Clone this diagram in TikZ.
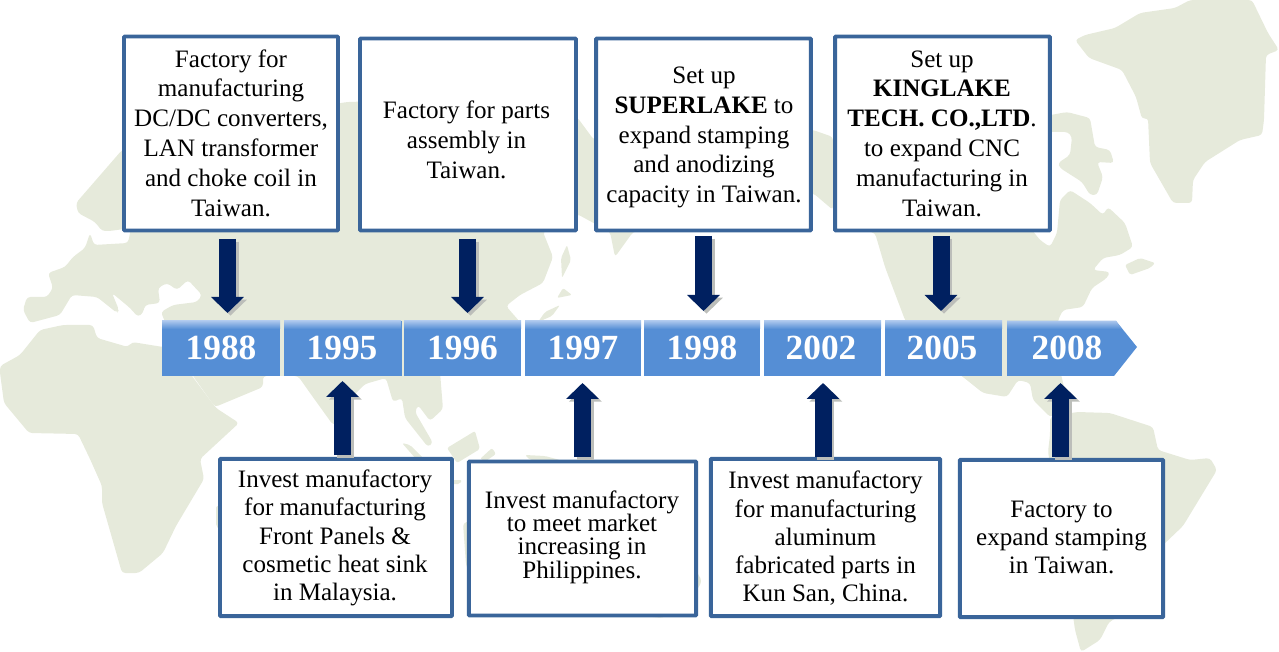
\documentclass[tikz,border=0pt]{standalone}
\usepackage{fontspec}
\setmainfont{Liberation Serif}
\usetikzlibrary{arrows.meta}
\definecolor{land}{HTML}{E6EADB}
\definecolor{yearblue}{HTML}{558ED5}
\definecolor{yearlight}{HTML}{A9C5EC}
\definecolor{frameblue}{HTML}{3A659A}
\definecolor{navy}{HTML}{002060}
\definecolor{shadegray}{HTML}{BCBEBA}
\tikzset{
  x=.75pt,y=-.75pt,
  landmass/.style={fill=land,draw=none,rounded corners=2.5pt},
  framebox/.style={draw=frameblue,line width=2.9pt,fill=white,rounded corners=.6pt,inner sep=0pt},
  txtA/.style={align=center,inner sep=0pt,font=\fontsize{18.8}{22.35}\selectfont},
  txtB/.style={align=center,inner sep=0pt,font=\fontsize{18.8}{21.15}\selectfont},
  txtC/.style={align=center,inner sep=0pt,font=\fontsize{18.8}{17.55}\selectfont},
  yearbox/.style={fill=yearblue,draw=none,inner sep=0pt,minimum height=41.25pt,text=white,font=\fontsize{26.5}{30}\selectfont\bfseries},
  yeartxt/.style={inner sep=0pt,text=white,font=\fontsize{26.5}{30}\selectfont\bfseries},
  blockarrow/.style={draw=navy,line width=12.75pt,-{Triangle[length=12pt,width=24pt,fill=navy]}},
  arrowshade/.style={draw=shadegray,line width=12.75pt,-{Triangle[length=12pt,width=24pt,fill=shadegray]}},
}
\newcommand{\stripe}[2]{\shade[top color=yearlight,bottom color=yearblue] (#1,321) rectangle (#2,329);}
\newcommand{\flow}[4]{%
  \coordinate (#1s) at (#2,#3);\coordinate (#1e) at (#2,#4);
  \draw[arrowshade] ([shift={(2.2pt,-2pt)}]#1s) -- ([shift={(2.2pt,-2pt)}]#1e);
  \draw[blockarrow] (#1s) -- (#1e);}
\begin{document}
\begin{tikzpicture}
\useasboundingbox (0,0) rectangle (1279,652);
% ---- world map ----
% Eurasia
\fill[landmass] (23,310)--(27,297)--(47,297)--(53,288)--(48,273)--(65,267)--(73,257)--(85,248)--(90,233)--(94,245)--(128,243)--(131,228)--(110,231)--(102,231)--(95,222)--(78,213)--(76,203)--(122,150)--(200,130)--(300,110)--(347,102)--(420,100)--(500,105)--(577,117)--(594,140)--(700,125)--(813,130)--(833,137)--(833,210)--(813,193)--(700,215)--(633,232)--(615,257)--(610,232)--(577,214)--(543,232)--(553,257)--(543,283)--(520,295)--(506,306)--(520,322)--(520,345)--(440,372)--(443,409)--(430,421)--(418,405)--(415,412)--(433,443)--(428,447)--(405,418)--(402,398)--(393,402)--(386,378)--(365,384)--(353,396)--(339,423)--(333,425)--(310,393)--(298,376)--(263,376)--(263,387)--(215,407)--(193,376)--(175,340)--(165,322)--(161,312)--(173,305)--(197,302)--(202,295)--(188,280)--(177,290)--(167,283)--(158,288)--(160,303)--(145,305)--(143,313)--(138,317)--(130,308)--(112,293)--(119,310)--(117,313)--(97,297)--(72,295)--(60,315)--(30,323)--cycle;
% Asian islands
\fill[land,rounded corners=1.5pt] (567,245)--(571,260)--(562,278)--(561,258)--cycle;
\fill[land,rounded corners=1.5pt] (563,288)--(572,295)--(557,298)--cycle;
\fill[land,rounded corners=1.5pt] (560,305)--(552,316)--(538,322)--(545,312)--cycle;
\fill[land,rounded corners=1.5pt] (402,443)--(410,445)--(424,459)--(416,459)--cycle;
\fill[land,rounded corners=1.5pt] (447,448)--(475,431)--(480,449)--(457,463)--cycle;
\fill[land,rounded corners=1.5pt] (480,459)--(492,448)--(496,454)--(486,461)--cycle;
\fill[land,rounded corners=1.5pt] (525,455)--(545,456)--(560,460)--(530,460)--cycle;
\fill[land,rounded corners=1.5pt] (452,480)--(462,480)--(460,484)--(452,484)--cycle;
% Africa
\fill[landmass] (93,325)--(97,338)--(128,347)--(132,342)--(163,347)--(175,345)--(192,376)--(216,408)--(239,423)--(200,459)--(204,479)--(176,526)--(163,553)--(139,573)--(122,573)--(102,503)--(102,486)--(90,459)--(78,434)--(29,433)--(4,403)--(0,373)--(0,366)--(20,355)--(40,330)--(63,325)--cycle;
% Madagascar
\fill[land,rounded corners=1.5pt] (216,506)--(222,506)--(222,532)--(216,526)--cycle;
% Australia
\fill[landmass] (463,523)--(475,520)--(690,560)--(702,581)--(697,590)--(663,618)--(480,600)--(466,565)--cycle;
% North America
\fill[landmass] (840,225)--(875,233)--(885,267)--(905,320)--(925,350)--(963,377)--(983,393)--(1007,397)--(1018,380)--(1030,383)--(1033,400)--(1050,417)--(1070,412)--(1060,370)--(1058,320)--(1063,310)--(1083,307)--(1092,288)--(1107,278)--(1110,272)--(1093,270)--(1103,258)--(1120,255)--(1133,247)--(1125,223)--(1108,207)--(1103,215)--(1090,203)--(1070,190)--(1060,200)--(1057,233)--(1050,247)--(1040,240)--(1028,225)--cycle;
% Canada with Hudson Bay
\fill[landmass] (1040,117)--(1067,112)--(1090,118)--(1095,147)--(1110,150)--(1114,163)--(1097,162)--(1103,177)--(1097,195)--(1090,195)--(1082,182)--(1060,168)--(1058,163)--(1070,155)--(1072,137)--(1068,132)--(1040,132)--cycle;
\fill[land,rounded corners=1.5pt] (1125,265)--(1140,258)--(1155,263)--(1150,268)--(1130,275)--cycle;
% Greenland
\fill[landmass] (1075,40)--(1085,35)--(1115,28)--(1140,13)--(1175,8)--(1190,0)--(1252,0)--(1268,33)--(1279,50)--(1266,55)--(1264,120)--(1262,135)--(1240,140)--(1205,162)--(1193,180)--(1192,203)--(1173,203)--(1150,163)--(1148,118)--(1142,119)--(1136,97)--(1122,70)--(1089,58)--cycle;
% South America
\fill[landmass] (1050,417)--(1077,412)--(1110,413)--(1153,427)--(1158,450)--(1190,460)--(1210,458)--(1217,470)--(1183,526)--(1162,546)--(1150,600)--(1109,622)--(1100,640)--(1081,652)--(1075,630)--(1060,520)--(1048,452)--(1050,435)--cycle;
% ---- timeline ----
\node[yearbox,minimum width=88.5pt] (y88) at (221,348.5) {};
\node[yearbox,minimum width=88.5pt] (y95) at (342.5,348.5) {};
\node[yearbox,minimum width=87.75pt] (y96) at (462.5,348.5) {};
\node[yearbox,minimum width=87pt] (y97) at (583,348.5) {};
\node[yearbox,minimum width=87pt] (y98) at (702,348.5) {};
\node[yearbox,minimum width=87.75pt] (y02) at (822.5,348.5) {};
\node[yearbox,minimum width=87.75pt] (y05) at (943.5,348.5) {};
\fill[yearblue] (1007,321)--(1116,321)--(1137,347)--(1114,376)--(1007,376)--cycle;
\stripe{162}{280}\stripe{284}{401}\stripe{404}{521}\stripe{525}{641}\stripe{644}{760}\stripe{764}{881}\stripe{885}{1002}
\shade[top color=yearlight,bottom color=yearblue] (1007,321)--(1116,321)--(1122,329)--(1007,329)--cycle;
\node[yeartxt] at (221,348) {1988};
\node[yeartxt] at (342,348) {1995};
\node[yeartxt] at (462.5,348) {1996};
\node[yeartxt] at (583,348) {1997};
\node[yeartxt] at (702,348) {1998};
\node[yeartxt] at (821,348) {2002};
\node[yeartxt] at (942,348) {2005};
\node[yeartxt] (y08) at (1067,348) {2008};
% ---- frames ----
\node[framebox,minimum width=160.5pt,minimum height=145.5pt] (b1) at (231,133.5) {};
\node[framebox,minimum width=162pt,minimum height=144pt] (b2) at (468,134.5) {};
\node[framebox,minimum width=161pt,minimum height=144pt] (b3) at (703.5,134.5) {};
\node[framebox,minimum width=161pt,minimum height=145.5pt] (b4) at (942.5,133.5) {};
\node[framebox,minimum width=174pt,minimum height=118pt] (b5) at (336,537.5) {};
\node[framebox,minimum width=170.5pt,minimum height=115.5pt] (b6) at (582.5,538.5) {};
\node[framebox,minimum width=172pt,minimum height=118pt] (b7) at (825.5,537.5) {};
\node[framebox,minimum width=152.5pt,minimum height=118pt] (b8) at (1061.5,538.5) {};
% ---- texts ----
\node[txtA] (t1) at (231,133) {Factory for\\manufacturing\\DC/DC converters,\\LAN transformer\\and choke coil in\\Taiwan.};
\node[txtA] (t2) at (466.5,140) {Factory for parts\\assembly in\\Taiwan.};
\node[txtA] (t3) at (704,137.5) {Set up\\\textbf{SUPERLAKE} to\\expand stamping\\and anodizing\\capacity in Taiwan.};
\node[txtA] (t4) at (942,133.5) {Set up\\\textbf{KINGLAKE}\\\textbf{TECH. CO.,LTD}.\\to expand CNC\\manufacturing in\\Taiwan.};
\node[txtB] (t5) at (335,538) {Invest manufactory\\for manufacturing\\Front Panels \&\\cosmetic heat sink\\in Malaysia.};
\node[txtC] (t6) at (582,537) {Invest manufactory\\to meet market\\increasing in\\Philippines.};
\node[txtB] (t7) at (825.5,538.5) {Invest manufactory\\for manufacturing\\aluminum\\fabricated parts in\\Kun San, China.};
\node[txtB] (t8) at (1061.5,537.5) {Factory to\\expand stamping\\in Taiwan.};
% ---- arrows ----
\flow{a88}{227.5}{239}{313}
\flow{a96}{467.5}{239}{313}
\flow{a98}{703.5}{236}{311}
\flow{a05}{941}{236}{311}
\flow{a95}{342.5}{455}{381}
\flow{a97}{582.5}{457}{383}
\flow{a02}{823}{457}{383}
\flow{a08}{1060.5}{457}{383}
\end{tikzpicture}
\end{document}
